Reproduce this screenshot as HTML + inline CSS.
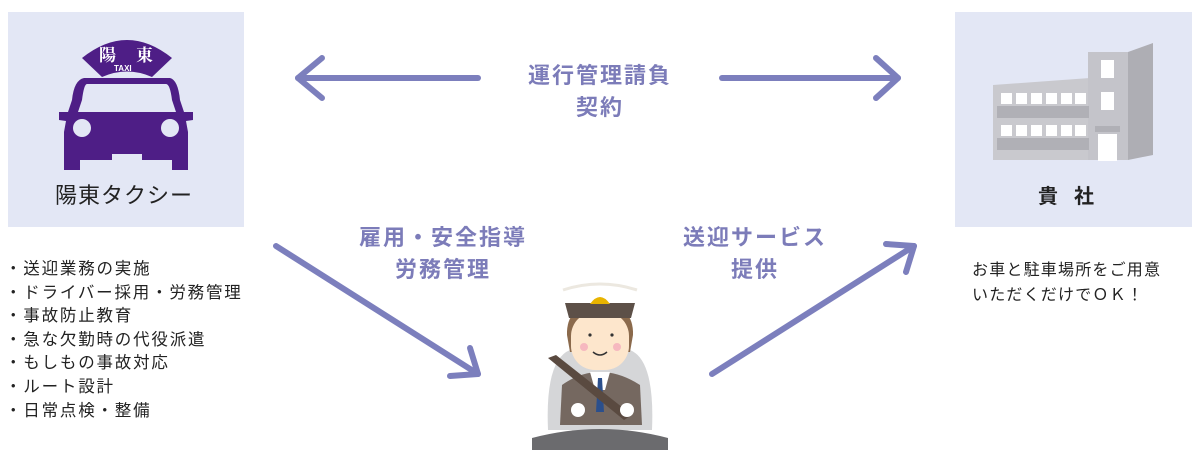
<!DOCTYPE html>
<html><head><meta charset="utf-8"><style>
body{margin:0;width:1200px;height:450px;background:#fff;position:relative;overflow:hidden;font-family:"Liberation Sans","Noto Sans CJK JP",sans-serif;}
.box{position:absolute;background:#e3e7f5;}
.t{position:absolute;white-space:nowrap;}
.lab{position:absolute;color:#7c7cb9;font-weight:bold;font-size:22px;text-align:center;line-height:32px;letter-spacing:2px;}
.list{position:absolute;left:5px;top:258px;font-size:16.5px;line-height:23.6px;color:#222;letter-spacing:1.8px;}
</style></head><body>
<div class="box" style="left:8px;top:12px;width:236px;height:215px"></div>
<div class="box" style="left:955px;top:12px;width:237px;height:215px"></div>
<svg width="1200" height="450" style="position:absolute;left:0;top:0">
<!-- taxi -->
<g fill="#4e1e86">
<path d="M82 58 Q127 22 172 58 L152 77 Q127 66 102 77 Z"/>
<path d="M84 78 L170 78 Q178 80 180 100 L184 112 L193 112 L193 120 L186 121 L188 132 L188 170 L172 170 L172 160 L142 160 L142 154 L112 154 L112 160 L80 160 L80 170 L64 170 L64 132 L66 121 L59 120 L59 112 L68 112 L72 100 Q74 80 84 78Z"/>
</g>
<path d="M87 84 L166 84 Q170 84 172 100 L176 112 L78 112 L82 100 Q84 84 87 84Z" fill="#e3e7f5"/>
<circle cx="82" cy="128" r="9" fill="#e3e7f5"/><circle cx="170" cy="128" r="9" fill="#e3e7f5"/>
<text x="99" y="61" font-size="17" font-weight="bold" fill="#fff" font-family="Noto Serif CJK SC,serif">陽</text>
<text x="136" y="61" font-size="17" font-weight="bold" fill="#fff" font-family="Noto Serif CJK SC,serif">東</text>
<text x="114" y="71" font-size="8" font-weight="bold" fill="#fff">TAXI</text>
<!-- building -->
<polygon points="993,85 1090,78 1090,160 993,160" fill="#c9c9ce"/>
<rect x="1088" y="52" width="40" height="108" fill="#c4c4ca"/>
<polygon points="1128,52 1153,43 1153,155 1128,160" fill="#aeaeb4"/>
<rect x="997" y="106" width="92" height="12" fill="#b0b0b6"/><rect x="997" y="138" width="92" height="12" fill="#b0b0b6"/>
<g fill="#fff"><rect x="1001" y="93" width="11" height="11"/><rect x="1016" y="93" width="11" height="11"/><rect x="1031" y="93" width="11" height="11"/><rect x="1046" y="93" width="11" height="11"/><rect x="1061" y="93" width="11" height="11"/><rect x="1075" y="93" width="11" height="11"/>
<rect x="1001" y="125" width="11" height="11"/><rect x="1016" y="125" width="11" height="11"/><rect x="1031" y="125" width="11" height="11"/><rect x="1046" y="125" width="11" height="11"/><rect x="1061" y="125" width="11" height="11"/><rect x="1075" y="125" width="11" height="11"/>
<rect x="1101" y="60" width="13" height="18"/><rect x="1101" y="92" width="13" height="18"/><rect x="1098" y="134" width="19" height="27"/></g>
<rect x="1095" y="126" width="25" height="6" fill="#b0b0b6"/>
<!-- arrows -->
<g stroke="#7c7fbd" stroke-width="6" fill="none" stroke-linecap="round" stroke-linejoin="round">
<line x1="478" y1="78" x2="298" y2="78"/><polyline points="322,58 298,78 322,98"/>
<line x1="722" y1="78" x2="898" y2="78"/><polyline points="876,58 898,78 876,98"/>
<line x1="276" y1="246" x2="478" y2="374"/><polyline points="450,376 478,374 470,348"/>
<line x1="712" y1="374" x2="914" y2="246"/><polyline points="886,244 914,246 906,272"/>
</g>
<!-- driver -->
<g>
<path d="M548 430 Q545 360 570 350 L630 350 Q655 360 652 430Z" fill="#d5d6d8"/>
<path d="M563 290 Q600 278 637 290" stroke="#ece8e0" stroke-width="3" fill="none"/>
<path d="M567 335 Q566 305 600 303 Q634 305 633 335 L630 352 L570 352Z" fill="#8b6a4c"/>
<rect x="571" y="312" width="58" height="58" rx="24" fill="#fde6cc"/>
<path d="M565 303 L635 303 L631 318 L569 318Z" fill="#5d5048"/>
<path d="M590 304 Q600 290 610 304Z" fill="#e8b400"/>
<circle cx="590" cy="335" r="1.6" fill="#333"/><circle cx="612" cy="335" r="1.6" fill="#333"/>
<circle cx="584" cy="347" r="4" fill="#f6b8bf"/><circle cx="617" cy="347" r="4" fill="#f6b8bf"/>
<path d="M593 352 Q600 358 607 352" stroke="#333" stroke-width="1.5" fill="none"/>
<path d="M560 425 L562 385 Q580 372 600 372 Q620 372 640 385 L642 425Z" fill="#756860"/>
<polygon points="590,372 610,372 605,390 595,390" fill="#fff"/>
<polygon points="598,378 602,378 604,412 596,412" fill="#2b4f8c"/>
<polygon points="548,358 556,355 632,415 624,420" fill="#5a4a40"/>
<circle cx="578" cy="410" r="7" fill="#fff"/><circle cx="627" cy="410" r="7" fill="#fff"/>
<path d="M532 438 Q600 420 668 438 L668 450 L532 450Z" fill="#6b6b6e"/>
</g>
</svg>
<div class="t" style="left:55px;top:178px;font-size:22px;color:#222;letter-spacing:1px">陽東タクシー</div>
<div class="t" style="left:1038px;top:180px;font-size:20px;color:#222;font-weight:bold;letter-spacing:16px">貴社</div>
<div class="lab" style="left:490px;top:60px;width:220px">運行管理請負<br>契約</div>
<div class="lab" style="left:323px;top:222px;width:240px">雇用・安全指導<br>労務管理</div>
<div class="lab" style="left:640px;top:222px;width:230px">送迎サービス<br>提供</div>
<div class="list">・送迎業務の実施<br>・ドライバー採用・労務管理<br>・事故防止教育<br>・急な欠勤時の代役派遣<br>・もしもの事故対応<br>・ルート設計<br>・日常点検・整備</div>
<div class="t" style="left:972px;top:258px;font-size:16px;line-height:25px;color:#222;letter-spacing:1.2px">お車と駐車場所をご用意<br>いただくだけでＯＫ！</div>
</body></html>
